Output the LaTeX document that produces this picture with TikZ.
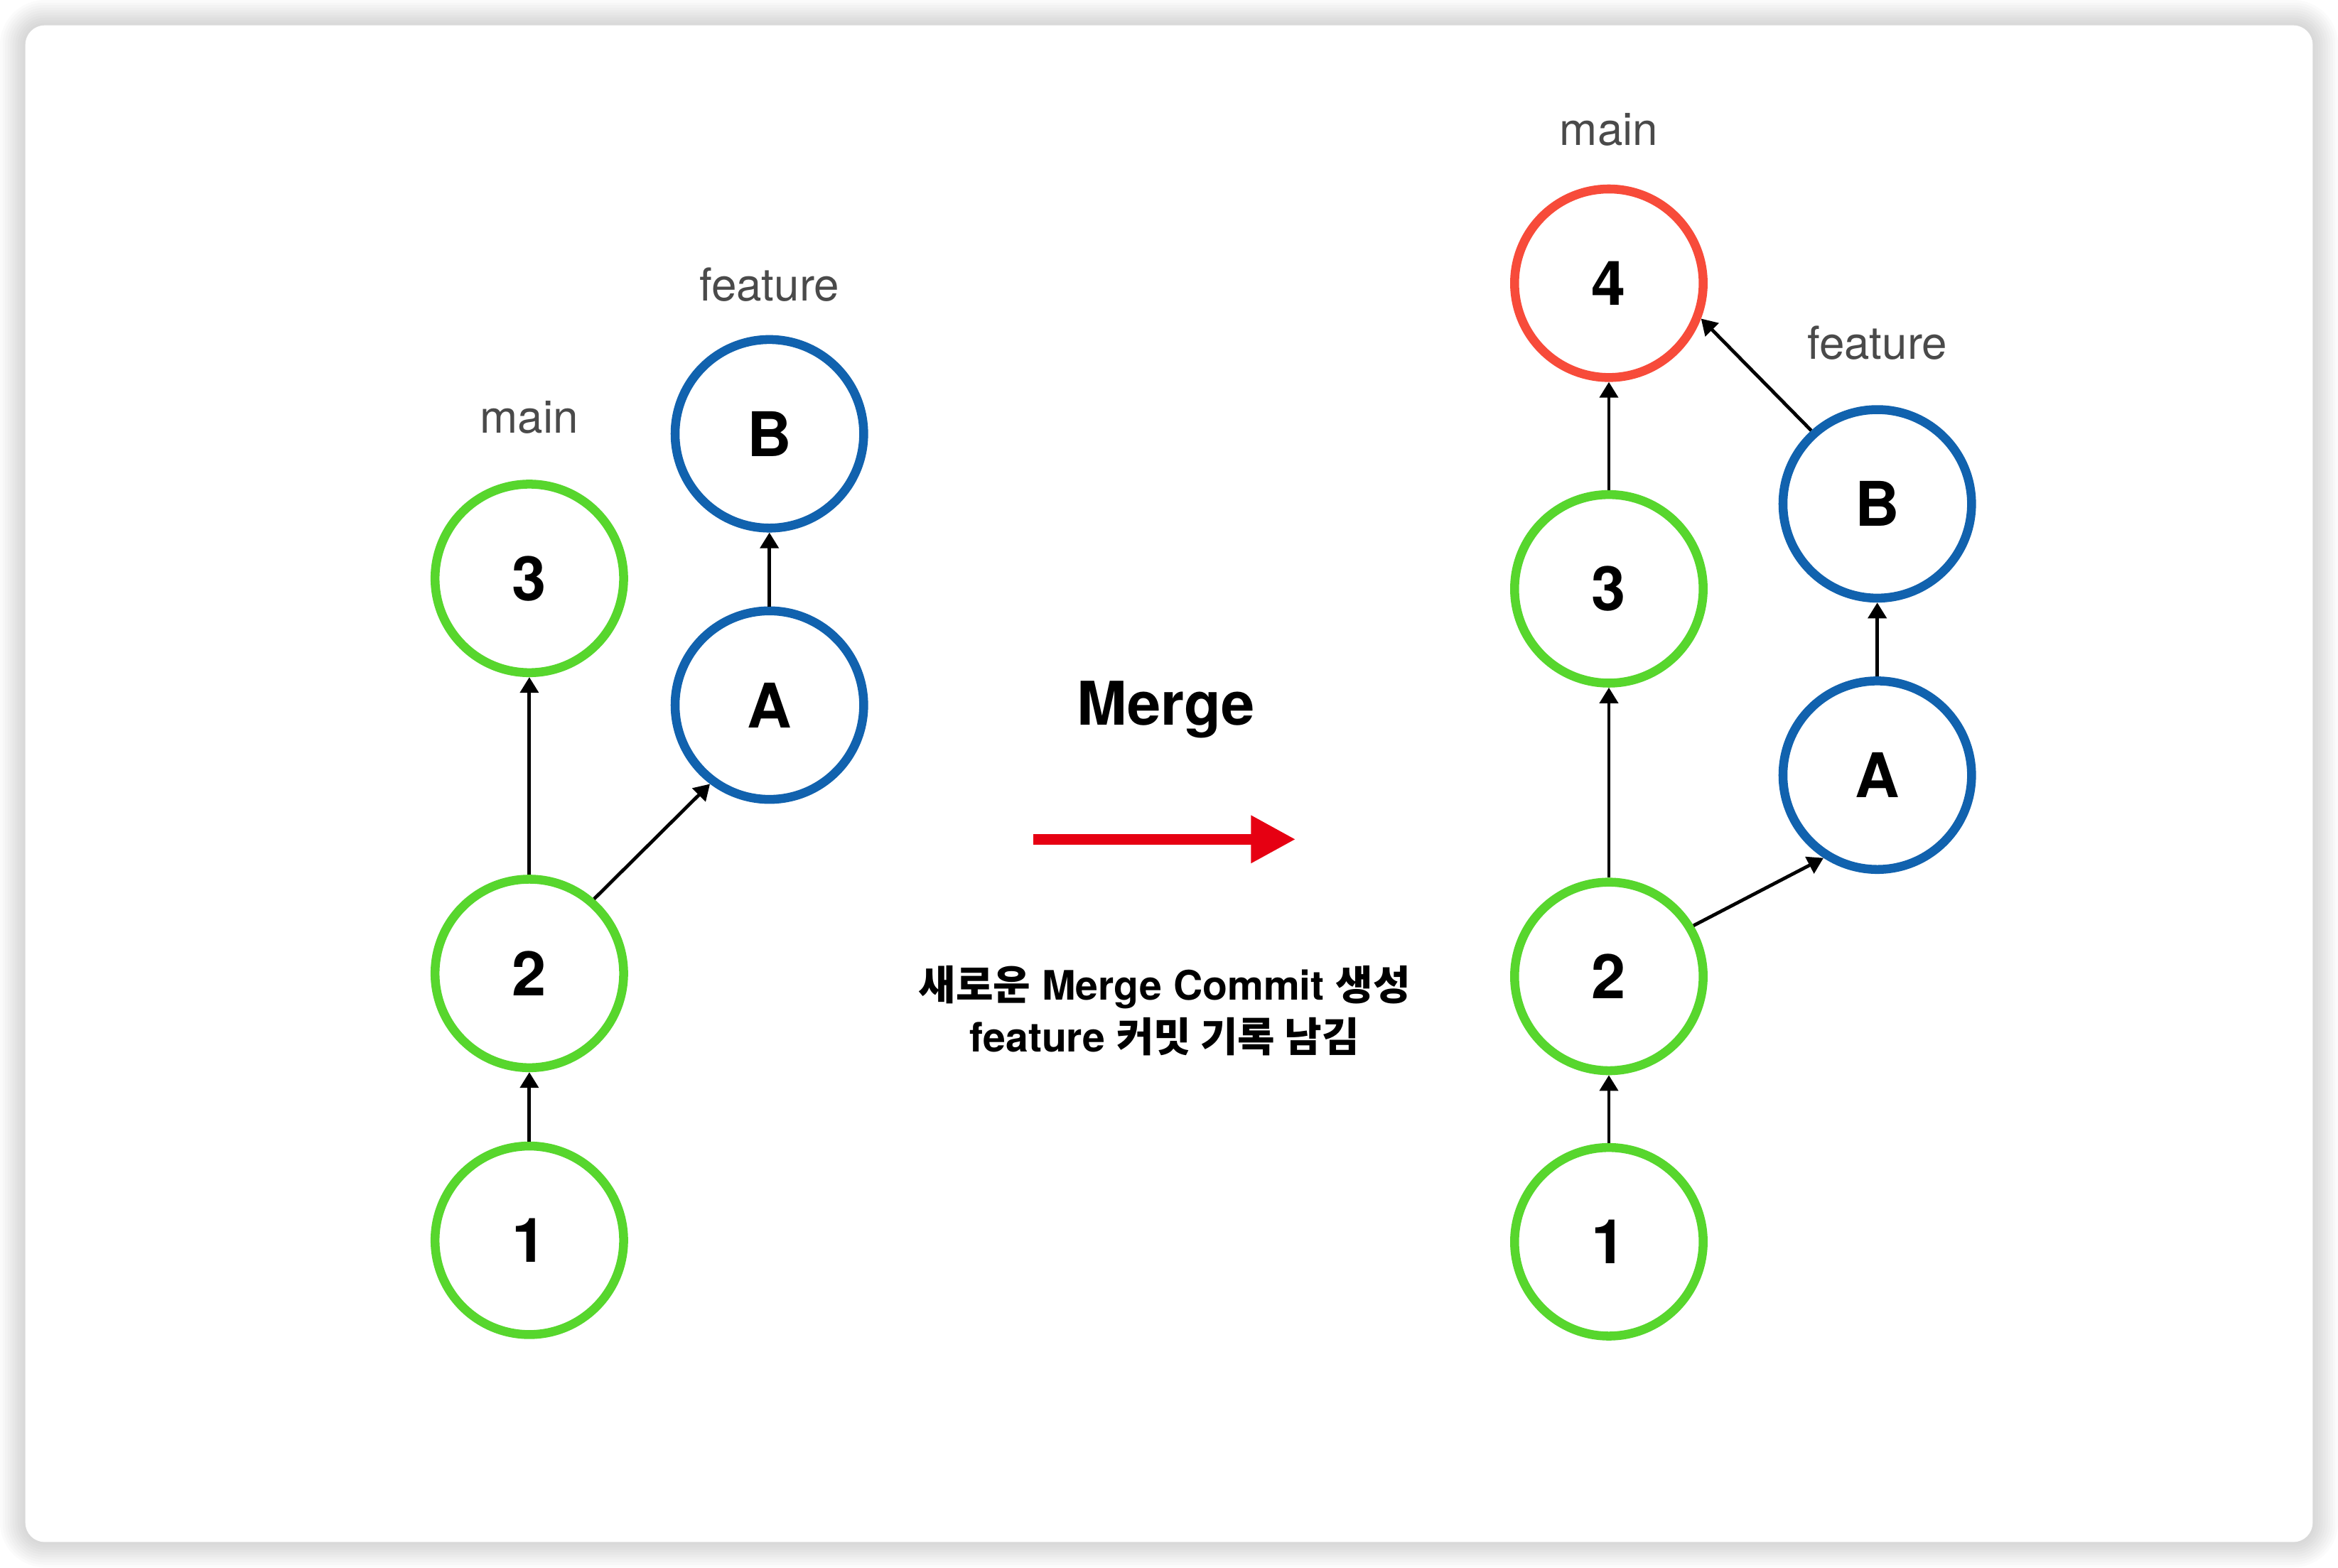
\documentclass[tikz,border=0pt]{standalone}
\usepackage{fontspec}
\setmainfont{TeX Gyre Heros}
\newfontfamily\krfont{Noto Sans CJK KR}
\usetikzlibrary{arrows.meta}
\definecolor{commitgreen}{HTML}{57D62D}
\definecolor{featureblue}{HTML}{1162AE}
\definecolor{mergecommit}{HTML}{F74B3A}
\definecolor{mergered}{HTML}{E60012}
\definecolor{labelgray}{HTML}{4A4A4A}
\tikzset{
    commit/.style={circle, draw=#1, fill=white, line width=3.4pt, minimum size=2.53cm, inner sep=0pt,
        font=\fontsize{23.5}{28}\selectfont\bfseries},
    branchlabel/.style={text=labelgray, inner sep=0pt, font=\fontsize{17.3}{20}\selectfont},
    parent/.style={-{Triangle[length=6pt,width=7pt]}, line width=1.3pt},
    mergearrow/.style={draw=mergered, line width=4.2pt, -{Triangle[length=0.6cm,width=0.6cm]}},
}
\begin{document}
\begin{tikzpicture}[x=0.02cm,y=-0.02cm]
        % Define dimensions
        \def\cardw{1568}
        \def\cardh{1051.4}
        \def\margin{17}
        \def\leftx{355}
        \def\rightx{1079}
        \useasboundingbox (0,0) rectangle (\cardw,\cardh);
        % Card with a soft shadow
        \foreach \s in {1,2,...,10} {
            \pgfmathsetmacro\rad{(13+\s*1.7)*0.02}
            \fill[black, opacity=0.015, rounded corners=\rad cm]
                (\margin-\s*1.7,\margin-\s*1.7) rectangle (\cardw-\margin+\s*1.7,\cardh-\margin+\s*1.7);
        }
        \fill[white, rounded corners=0.26cm] (\margin,\margin) rectangle (\cardw-\margin,\cardh-\margin);
        % Before the merge
        \node[commit=commitgreen] (l1) at (\leftx,832) {1};
        \node[commit=commitgreen] (l2) at (\leftx,653) {2};
        \node[commit=commitgreen] (l3) at (\leftx,388) {3};
        \node[commit=featureblue] (lA) at (516,473) {A};
        \node[commit=featureblue] (lB) at (516,291) {B};
        \node[branchlabel] (lmain) at (\leftx,280) {main};
        \node[branchlabel] (lfeature) at (516,191) {feature};
        \draw[parent] (l1) -- (l2);
        \draw[parent] (l2) -- (l3);
        \draw[parent] (l2.49) -- (lA.233);
        \draw[parent] (lA) -- (lB);
        % Merge arrow and notes
        \node[font=\fontsize{23}{28}\selectfont\bfseries] (mergelabel) at (782,476) {Merge};
        \coordinate (mergefrom) at (693,563);
        \coordinate (mergeto) at (869,563);
        \draw[mergearrow] (mergefrom) -- (mergeto);
        \node[align=center, font=\fontsize{15.5}{20}\selectfont\bfseries] (mergenote) at (781,678)
            {{\krfont 새로운} Merge Commit {\krfont 생성}\\feature {\krfont 커밋 기록 남김}};
        % After the merge
        \node[commit=commitgreen] (r1) at (\rightx,833) {1};
        \node[commit=commitgreen] (r2) at (\rightx,655) {2};
        \node[commit=commitgreen] (r3) at (\rightx,395) {3};
        \node[commit=mergecommit] (r4) at (\rightx,190) {4};
        \node[commit=featureblue] (rA) at (1259,520) {A};
        \node[commit=featureblue] (rB) at (1259,338) {B};
        \node[branchlabel] (rmain) at (\rightx,87) {main};
        \node[branchlabel] (rfeature) at (1259,230) {feature};
        \draw[parent] (r1) -- (r2);
        \draw[parent] (r2) -- (r3);
        \draw[parent] (r3) -- (r4);
        \draw[parent] (r2.31) -- (rA.237);
        \draw[parent] (rA) -- (rB);
        \draw[parent] (rB.132) -- (r4.-21);
\end{tikzpicture}
\end{document}
